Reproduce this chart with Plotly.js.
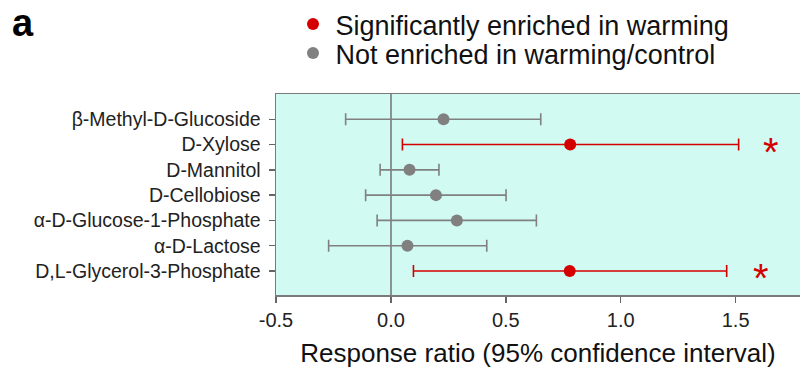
<!DOCTYPE html>
<html>
<head>
<meta charset="utf-8">
<script src="https://cdn.plot.ly/plotly-3.0.1.min.js"></script>
<style>html,body{margin:0;padding:0;background:#fff;}#chart{width:800px;height:379px;}</style>
</head>
<body>
<div id="chart"></div>
<script>
const categories = ['β-Methyl-D-Glucoside','D-Xylose','D-Mannitol','D-Cellobiose','α-D-Glucose-1-Phosphate','α-D-Lactose','D,L-Glycerol-3-Phosphate'];
const ratio = [0.229, 0.780, 0.081, 0.196, 0.287, 0.072, 0.778];
const lower = [-0.197, 0.050, -0.047, -0.110, -0.060, -0.271, 0.098];
const upper = [0.652, 1.513, 0.209, 0.501, 0.633, 0.417, 1.461];
const significant = [false, true, false, false, false, false, true];
const starX = [null, 1.652, null, null, null, null, 1.609];
const seriesNames = ['Significantly enriched in warming', 'Not enriched in warming/control'];
const xTicks = [-0.5, 0.0, 0.5, 1.0, 1.5];
const xTickText = ['-0.5', '0.0', '0.5', '1.0', '1.5'];

const RED = '#d40000', GRAY = '#808080';
const FONT = 'Liberation Sans, Arial, sans-serif';

function makeTrace(sig, name, color, legendId) {
  const idx = categories.map((c, i) => i).filter(i => significant[i] === sig);
  return {
    type: 'scatter', mode: 'markers', name: name, legend: legendId,
    y: idx.map(i => categories[i]),
    x: idx.map(i => ratio[i]),
    error_x: {
      type: 'data', symmetric: false,
      array: idx.map(i => upper[i] - ratio[i]),
      arrayminus: idx.map(i => ratio[i] - lower[i]),
      color: color, thickness: 1.6, width: 6
    },
    marker: {color: color, size: 12},
    cliponaxis: false
  };
}

const traces = [
  makeTrace(true, seriesNames[0], RED, 'legend'),
  makeTrace(false, seriesNames[1], GRAY, 'legend2')
];

const annotations = [];
starX.forEach((sx, i) => {
  if (sx !== null) {
    annotations.push({x: sx, y: categories[i], xref: 'x', yref: 'y', text: '*', showarrow: false,
      font: {family: FONT, size: 40, color: RED}, xanchor: 'center', yanchor: 'middle', yshift: -7});
  }
});
annotations.push({x: (10 - 276) / 524, y: 1.47, xref: 'paper', yref: 'paper', xanchor: 'left', yanchor: 'top',
  text: '<b>a</b>', showarrow: false, font: {family: FONT, size: 38, color: '#000'}});

const legendCommon = {
  font: {family: FONT, size: 27, color: '#111'},
  bgcolor: 'rgba(0,0,0,0)', borderwidth: 0,
  xanchor: 'left', yanchor: 'top', itemwidth: 35, itemclick: false
};

const layout = {
  width: 800, height: 379,
  margin: {l: 276, r: 0, t: 94, b: 84},
  paper_bgcolor: '#ffffff',
  plot_bgcolor: '#d0faf2',
  font: {family: FONT, color: '#111'},
  showlegend: true,
  legend: Object.assign({}, legendCommon, {x: (290.5 - 276) / 524, y: 295 / 201}),
  legend2: Object.assign({}, legendCommon, {x: (290.5 - 276) / 524, y: (295 - 29) / 201}),
  xaxis: {
    range: [-0.5, 1.78],
    tickvals: xTicks, ticktext: xTickText,
    ticks: 'outside', ticklen: 6, tickcolor: '#666', tickwidth: 1.5,
    showline: true, linecolor: '#7a7a7a', linewidth: 1.5, mirror: true,
    showgrid: false,
    zeroline: true, zerolinecolor: '#8a9494', zerolinewidth: 1.5,
    tickfont: {family: FONT, size: 20, color: '#222'},
    title: {text: 'Response ratio (95% confidence interval)', font: {family: FONT, size: 26, color: '#111'}, standoff: 14},
    fixedrange: true
  },
  yaxis: {
    type: 'category',
    categoryorder: 'array', categoryarray: categories,
    range: [6.95, -1],
    ticks: 'outside', ticklen: 6, tickcolor: '#666', tickwidth: 1.5,
    showline: true, linecolor: '#7a7a7a', linewidth: 1.5,
    showgrid: false, zeroline: false,
    tickfont: {family: FONT, size: 19.5, color: '#222'},
    ticklabelstandoff: 4,
    fixedrange: true
  },
  annotations: annotations
};

Plotly.newPlot('chart', traces, layout, {displayModeBar: false, staticPlot: true});
</script>
</body>
</html>
